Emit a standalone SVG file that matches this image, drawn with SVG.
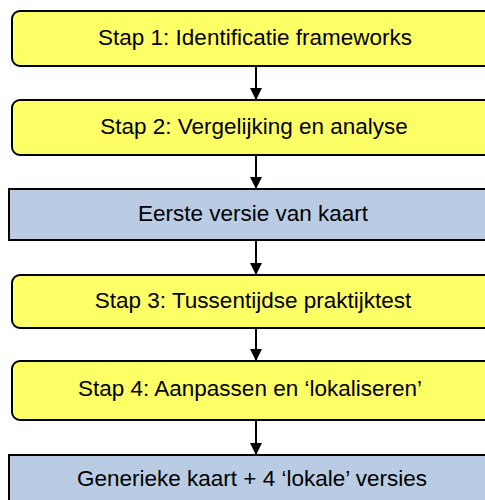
<svg xmlns="http://www.w3.org/2000/svg" width="485" height="500" viewBox="0 0 485 500">
  <defs>
    <marker id="head" markerWidth="12" markerHeight="12" refX="12" refY="6" orient="auto" markerUnits="userSpaceOnUse">
      <path d="M0,0 L12,6 L0,12 Z" fill="#000"/>
    </marker>
  </defs>
  <style>
    .step { fill: #FFFF66; stroke: #000; stroke-width: 2; }
    .result { fill: #B9CCE4; stroke: #000; stroke-width: 2; }
    .label { font-family: "Liberation Sans", Arial, sans-serif; font-size: 22.5px; fill: #000; text-anchor: middle; }
    .link { stroke: #000; stroke-width: 2; fill: none; marker-end: url(#head); }
  </style>
  <rect width="485" height="500" fill="#fff"/>

  <g id="connectors">
    <line class="link" x1="256" y1="66" x2="256" y2="100"/>
    <line class="link" x1="256" y1="155" x2="256" y2="189"/>
    <line class="link" x1="256" y1="240" x2="256" y2="275"/>
    <line class="link" x1="256" y1="328" x2="256" y2="361"/>
    <line class="link" x1="256" y1="420" x2="256" y2="455"/>
  </g>

  <g id="stap1">
    <rect class="step" x="12" y="11" width="516" height="55" rx="8"/>
    <text class="label" x="255" y="45">Stap 1: Identificatie frameworks</text>
  </g>
  <g id="stap2">
    <rect class="step" x="12" y="100" width="516" height="55" rx="8"/>
    <text class="label" x="254" y="134">Stap 2: Vergelijking en analyse</text>
  </g>
  <g id="eerste-versie">
    <rect class="result" x="9" y="189" width="490" height="51"/>
    <text class="label" x="253" y="221">Eerste versie van kaart</text>
  </g>
  <g id="stap3">
    <rect class="step" x="12" y="275" width="516" height="53" rx="8"/>
    <text class="label" x="253" y="308">Stap 3: Tussentijdse praktijktest</text>
  </g>
  <g id="stap4">
    <rect class="step" x="12" y="361" width="516" height="59" rx="8"/>
    <text class="label" x="250" y="396">Stap 4: Aanpassen en ‘lokaliseren’</text>
  </g>
  <g id="generieke-kaart">
    <rect class="result" x="9" y="455" width="490" height="60"/>
    <text class="label" x="252" y="486">Generieke kaart + 4 ‘lokale’ versies</text>
  </g>
</svg>
